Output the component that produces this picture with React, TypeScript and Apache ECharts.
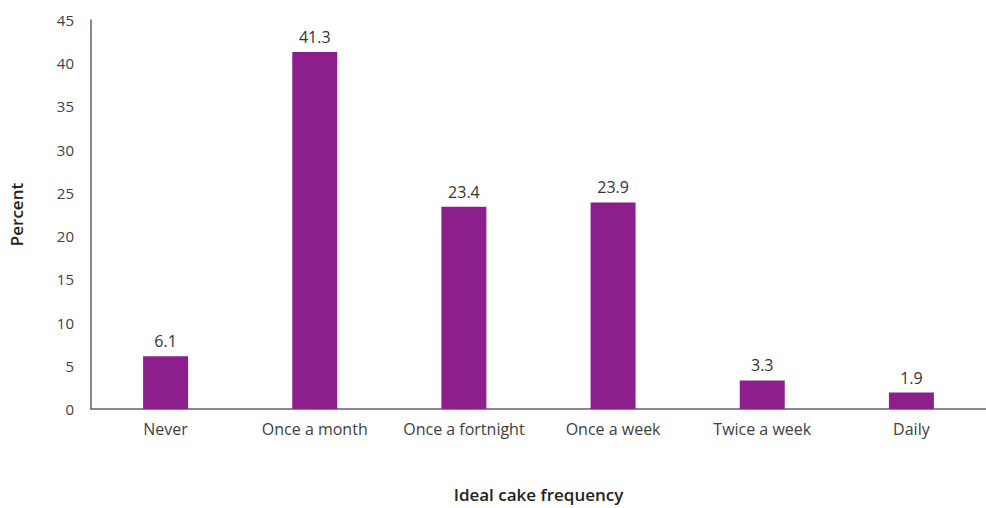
import React, { useEffect, useRef } from "react";
import * as echarts from "echarts";

const categories = ["Never", "Once a month", "Once a fortnight", "Once a week", "Twice a week", "Daily"];
const percents = [6.1, 41.3, 23.4, 23.9, 3.3, 1.9];
const yMin = 0;
const yMax = 45;
const yStep = 5;

export default function App() {
  const ref = useRef<HTMLDivElement>(null);

  useEffect(() => {
    if (!ref.current) return;
    const chart = echarts.init(ref.current, undefined, { renderer: "svg" });
    const font = "'Open Sans', 'Liberation Sans', sans-serif";
    chart.setOption({
      animation: false,
      backgroundColor: "#ffffff",
      // the plot runs slightly past the right edge, so the last band is cut off
      grid: { left: 90, top: 20, width: 902, height: 396, containLabel: false },
      xAxis: {
        type: "category",
        data: categories,
        name: "Ideal cake frequency",
        nameLocation: "middle",
        nameGap: 77,
        nameTextStyle: { fontFamily: font, fontSize: 17, color: "#222222", fontWeight: 600 },
        axisLine: { lineStyle: { color: "#6b5a73", width: 1.5 } },
        axisTick: { show: false },
        axisLabel: { interval: 0, fontFamily: font, fontSize: 16, color: "#404040", margin: 12 },
      },
      yAxis: {
        type: "value",
        min: yMin,
        max: yMax,
        interval: yStep,
        name: "Percent",
        nameLocation: "middle",
        nameGap: 66,
        nameTextStyle: { fontFamily: font, fontSize: 17, color: "#222222", fontWeight: 600 },
        axisLine: { show: true, lineStyle: { color: "#6b5a73", width: 1.5 } },
        axisTick: { show: false },
        splitLine: { show: false },
        axisLabel: { fontFamily: font, fontSize: 15, color: "#404040", margin: 17 },
      },
      series: [
        {
          type: "bar",
          data: percents,
          barWidth: 45,
          itemStyle: { color: "#8c1f8c" },
          label: {
            show: true,
            position: "top",
            distance: 7,
            fontFamily: font,
            fontSize: 16,
            color: "#333333",
            formatter: (p: any) => p.value.toFixed(1),
          },
        },
      ],
    });
    return () => chart.dispose();
  }, []);

  return (
    <div
      ref={ref}
      style={{ position: "fixed", left: 0, top: 0, width: 986, height: 508, overflow: "hidden" }}
    />
  );
}
